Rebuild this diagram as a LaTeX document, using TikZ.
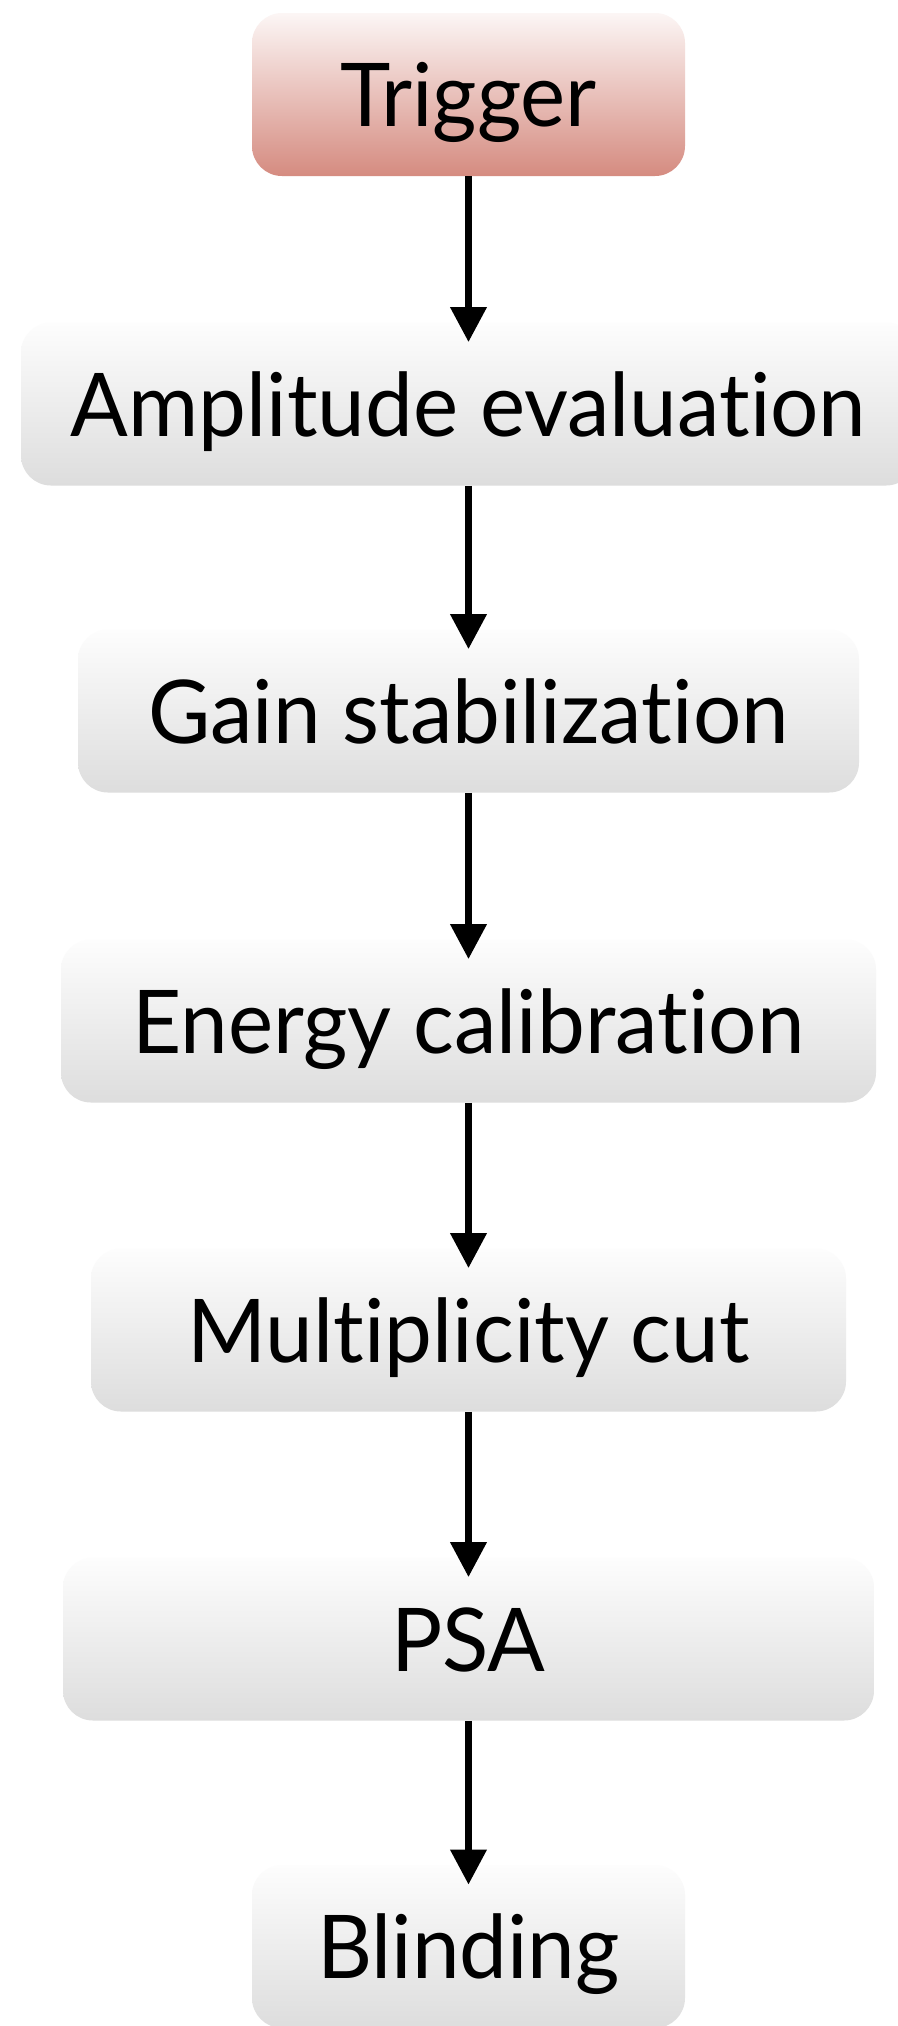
\documentclass[tikz,border=0pt]{standalone}
\usepackage{fontspec}
\setmainfont{Lato}[FakeStretch=0.97, Ligatures=NoCommon]
\usetikzlibrary{arrows.meta}
\definecolor{gtop}{HTML}{FDFDFD}
\definecolor{gbot}{HTML}{DDDDDD}
\definecolor{rtop}{HTML}{FCF6F5}
\definecolor{rbot}{HTML}{D58B80}
\tikzset{
  stage/.style={rounded corners=15pt, top color=gtop, bottom color=gbot, draw=none,
    minimum height=81.5pt, inner sep=0pt, text=black,
    font=\fontsize{44pt}{48pt}\selectfont, text height=32pt, text depth=0pt},
  trig/.style={stage, top color=rtop, bottom color=rbot},
  flow/.style={line width=3.5pt, -{Triangle[width=17.5pt,length=17.5pt]}, shorten >=-10pt}
}
\begin{document}
\begin{tikzpicture}[x=0.5pt,y=-0.5pt]
\useasboundingbox (0,0) rectangle (898,2026);
\fill[white] (0,0) rectangle (898,2026);
\node[trig,  minimum width=216.5pt] (trig) at (468.5,94.5) {Trigger};
\node[stage, minimum width=447.5pt] (amp)  at (468.5,404) {Amplitude evaluation};
\node[stage, minimum width=390.5pt] (gain) at (468.5,711) {Gain stabilization};
\node[stage, minimum width=407.5pt] (ener) at (468.5,1021) {Energy calibration};
\node[stage, minimum width=377.5pt] (mult) at (468.5,1330) {Multiplicity cut};
\node[stage, minimum width=405.5pt] (psa)  at (468.5,1639) {PSA};
\node[stage, minimum width=216.5pt] (blind) at (468.5,1946.5) {Blinding};
\draw[flow] (trig) -- (amp);
\draw[flow] (amp) -- (gain);
\draw[flow] (gain) -- (ener);
\draw[flow] (ener) -- (mult);
\draw[flow] (mult) -- (psa);
\draw[flow] (psa) -- (blind);
\end{tikzpicture}
\end{document}
